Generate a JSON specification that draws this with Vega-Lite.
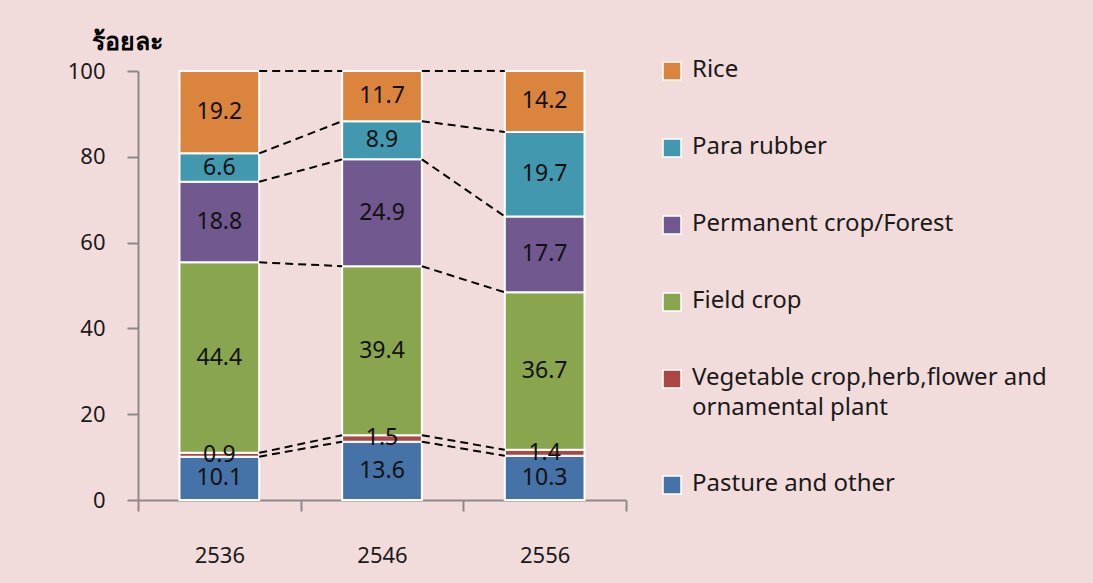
{
  "$schema": "https://vega.github.io/schema/vega-lite/v6.json",
  "width": 488,
  "height": 429,
  "autosize": {"type": "none"},
  "padding": {"left": 138, "top": 71, "right": 467, "bottom": 83},
  "background": "#F2DCDB",
  "config": {
    "view": {"stroke": null},
    "font": "Noto Sans",
    "axis": {"labelFont": "Noto Sans", "titleFont": "Noto Sans"},
    "legend": {"labelFont": "Noto Sans"}
  },
  "data": {
    "values": [
      {"year": "2536", "category": "Pasture and other", "value": 10.1},
      {"year": "2536", "category": "Vegetable crop,herb,flower and ornamental plant", "value": 0.9},
      {"year": "2536", "category": "Field crop", "value": 44.4},
      {"year": "2536", "category": "Permanent crop/Forest", "value": 18.8},
      {"year": "2536", "category": "Para rubber", "value": 6.6},
      {"year": "2536", "category": "Rice", "value": 19.2},
      {"year": "2546", "category": "Pasture and other", "value": 13.6},
      {"year": "2546", "category": "Vegetable crop,herb,flower and ornamental plant", "value": 1.5},
      {"year": "2546", "category": "Field crop", "value": 39.4},
      {"year": "2546", "category": "Permanent crop/Forest", "value": 24.9},
      {"year": "2546", "category": "Para rubber", "value": 8.9},
      {"year": "2546", "category": "Rice", "value": 11.7},
      {"year": "2556", "category": "Pasture and other", "value": 10.3},
      {"year": "2556", "category": "Vegetable crop,herb,flower and ornamental plant", "value": 1.4},
      {"year": "2556", "category": "Field crop", "value": 36.7},
      {"year": "2556", "category": "Permanent crop/Forest", "value": 17.7},
      {"year": "2556", "category": "Para rubber", "value": 19.7},
      {"year": "2556", "category": "Rice", "value": 14.2}
    ]
  },
  "transform": [
    {"window": [{"op": "row_number", "as": "rank"}], "groupby": ["year"]}
  ],
  "encoding": {
    "x": {
      "field": "year",
      "type": "ordinal",
      "scale": {"paddingInner": 0, "paddingOuter": 0},
      "axis": {
        "title": null,
        "labelAngle": 0,
        "tickBand": "extent",
        "tickSize": 11,
        "tickWidth": 2,
        "tickColor": "#8a8a8a",
        "domainColor": "#8a8a8a",
        "domainWidth": 2,
        "labelFontSize": 22,
        "labelColor": "#1a1a1a",
        "labelPadding": 34
      }
    }
  },
  "layer": [
    {
      "mark": {"type": "bar", "width": {"band": 0.49}, "stroke": "white", "strokeWidth": 2},
      "encoding": {
        "y": {
          "field": "value",
          "type": "quantitative",
          "stack": "zero",
          "scale": {"domain": [0, 100], "nice": false},
          "axis": {
            "title": "ร้อยละ",
            "titleAngle": 0,
            "titleAlign": "center",
            "titleBaseline": "middle",
            "titleX": -11,
            "titleY": -30,
            "titleFontSize": 25,
            "titleFontWeight": "bold",
            "titleColor": "#000000",
            "values": [0, 20, 40, 60, 80, 100],
            "grid": false,
            "tickSize": 11,
            "tickWidth": 2,
            "tickColor": "#8a8a8a",
            "domainColor": "#8a8a8a",
            "domainWidth": 2,
            "labelFontSize": 22,
            "labelColor": "#1a1a1a",
            "labelPadding": 22
          }
        },
        "color": {
          "field": "category",
          "type": "nominal",
          "scale": {
            "domain": ["Rice", "Para rubber", "Permanent crop/Forest", "Field crop", "Vegetable crop,herb,flower and ornamental plant", "Pasture and other"],
            "range": ["#DB843D", "#4298AF", "#71588F", "#89A54E", "#AA4643", "#4572A7"]
          },
          "legend": {
            "title": null,
            "orient": "none",
            "legendX": 522,
            "legendY": -12,
            "symbolType": "square",
            "symbolSize": 324,
            "symbolStrokeColor": "white",
            "symbolStrokeWidth": 1.5,
            "symbolOpacity": 1,
            "labelFontSize": 24,
            "labelColor": "#1a1a1a",
            "labelLimit": 420,
            "labelOffset": 8,
            "rowPadding": 52,
            "labelExpr": "datum.label == 'Vegetable crop,herb,flower and ornamental plant' ? ['Vegetable crop,herb,flower and', 'ornamental plant'] : datum.label",
            "labelBaseline": "top",
            "encoding": {
              "labels": {"dy": {"value": -13}, "lineHeight": {"value": 30}}
            }
          }
        },
        "order": {"field": "rank", "type": "quantitative"}
      }
    },
    {
      "mark": {"type": "text", "fontSize": 23, "color": "#111111"},
      "encoding": {
        "y": {"field": "value", "type": "quantitative", "stack": "zero", "bandPosition": 0.5},
        "detail": {"field": "category", "type": "nominal"},
        "order": {"field": "rank", "type": "quantitative"},
        "text": {"field": "value", "type": "quantitative", "format": ".1f"}
      }
    },
    {
      "transform": [
        {"stack": "value", "groupby": ["year"], "sort": [{"field": "rank", "order": "ascending"}], "as": ["y0", "y1"]},
        {"window": [{"op": "lead", "field": "y1", "as": "next_top"}, {"op": "lead", "field": "year", "as": "next_year"}], "groupby": ["category"], "sort": [{"field": "year", "order": "ascending"}]},
        {"filter": "datum.next_year != null"}
      ],
      "mark": {"type": "rule", "color": "black", "strokeWidth": 2, "strokeDash": [8, 5]},
      "encoding": {
        "x": {"field": "year", "type": "ordinal", "bandPosition": 0.745},
        "x2": {"field": "next_year", "bandPosition": 0.255},
        "y": {"field": "y1", "type": "quantitative"},
        "y2": {"field": "next_top"}
      }
    }
  ]
}
